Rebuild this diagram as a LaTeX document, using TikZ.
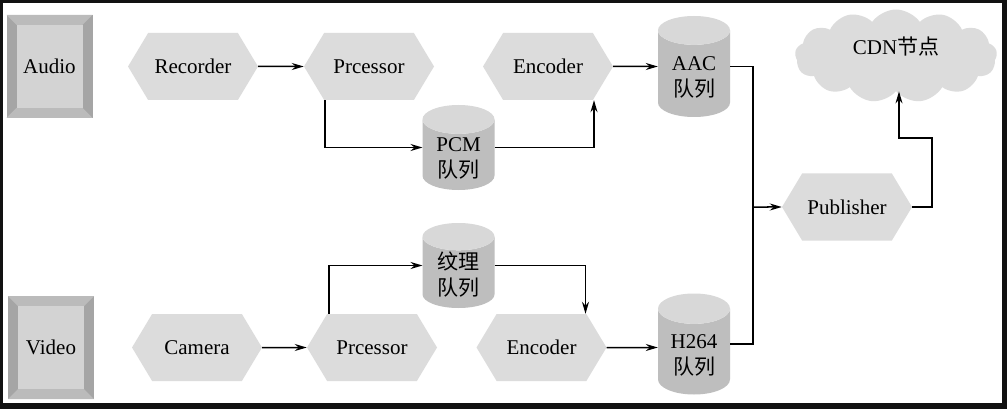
\documentclass[tikz,border=0pt]{standalone}
\usepackage{fontspec}
\setmainfont{Liberation Serif}
\newfontfamily\cjk{Noto Sans CJK SC}
\usetikzlibrary{shapes.geometric,shapes.symbols,arrows.meta}
\definecolor{framegray}{HTML}{111111}
\definecolor{hexgray}{HTML}{DCDCDC}
\definecolor{bodygray}{HTML}{BEBEBE}
\definecolor{endgray}{HTML}{D8D8D8}
\definecolor{sidegray}{HTML}{A5A5A5}
\definecolor{bevelgray}{HTML}{BBBBBB}
\definecolor{facegray}{HTML}{D3D3D3}
\newcommand{\twolines}[2]{\begin{tabular}{@{}c@{}}#1\\#2\end{tabular}}
\begin{document}
\begin{tikzpicture}[x=1pt,y=-1pt,
    font=\fontsize{21}{26}\selectfont,
    hexa/.style={signal, signal to=east and west, signal pointer angle=118,
      fill=hexgray, minimum width=130pt, minimum height=67pt, inner sep=0pt},
    queue/.style={cylinder, shape border rotate=90, aspect=0.65, anchor=shape center,
      cylinder uses custom fill, cylinder body fill=bodygray,
      cylinder end fill=endgray, minimum width=72pt, minimum height=101pt,
      text height=30pt, text depth=10pt, inner sep=0pt},
    dev/.style={rectangle, minimum width=86pt, minimum height=103pt,
      fill=sidegray, path picture={
        \fill[bevelgray] (path picture bounding box.north west)
          -- (path picture bounding box.north east)
          -- ([shift={(-10pt,-10pt)}]path picture bounding box.north east)
          -- ([shift={(10pt,-10pt)}]path picture bounding box.north west) -- cycle;
        \fill[bevelgray] (path picture bounding box.south west)
          -- (path picture bounding box.south east)
          -- ([shift={(-10pt,10pt)}]path picture bounding box.south east)
          -- ([shift={(10pt,10pt)}]path picture bounding box.south west) -- cycle;
        \fill[facegray] ([shift={(10pt,-10pt)}]path picture bounding box.north west)
          rectangle ([shift={(-10pt,10pt)}]path picture bounding box.south east);
      }},
    link/.style={line width=1.5pt, -{Stealth[length=12pt,width=7pt]}},
    bus/.style={line width=1.5pt}]
  % frame of the screenshot
  \fill[framegray] (0,0) rectangle (1007,409);
  \fill[white] (3,3) rectangle (1002,403);

  % audio row
  \node[dev] (audio) at (49.5,66.5) {Audio};
  \node[hexa] (rec) at (193,66.5) {Recorder};
  \node[hexa] (proca) at (369,66.5) {Prcessor};
  \node[hexa] (enca) at (548,66.5) {Encoder};
  \node[queue] (aac) at (694,66.5) {\twolines{AAC}{\cjk 队列}};
  \node[queue, minimum height=85pt] (pcm) at (458.5,147.5) {\twolines{PCM}{\cjk 队列}};

  % video row
  \node[dev] (video) at (51,347.5) {Video};
  \node[hexa] (cam) at (197,347.5) {Camera};
  \node[hexa] (procv) at (372,347.5) {Prcessor};
  \node[hexa] (encv) at (541.5,347.5) {Encoder};
  \node[queue] (h264) at (694,344) {\twolines{H264}{\cjk 队列}};
  \node[queue, minimum height=85pt] (tex) at (458.5,265.5) {\twolines{\cjk 纹理}{\cjk 队列}};

  % publishing
  \node[hexa] (pub) at (847,207) {Publisher};
  \node[cloud, cloud puffs=13, cloud puff arc=110, aspect=2.2, fill=hexgray,
    minimum width=202pt, minimum height=93pt, inner sep=0pt,
    text height=10pt, text depth=12pt] (cdn) at (896,56) {CDN{\cjk 节点}};
  \coordinate (join) at (753,207);
  \coordinate (turn) at (899,138);

  \draw[link] (rec) -- (proca);
  \draw[link] ([xshift=-44pt]proca.south) |- ([xshift=-36pt]pcm.shape center);
  \draw[link] ([xshift=36pt]pcm.shape center) -| ([xshift=46pt]enca.south);
  \draw[link] (enca) -- (enca -| aac.west);

  \draw[link] (cam) -- (procv);
  \draw[link] ([xshift=-43pt]procv.north) |- ([xshift=-36pt]tex.shape center);
  \draw[link] ([xshift=36pt]tex.shape center) -| ([xshift=44pt]encv.north);
  \draw[link] (encv) -- (encv -| h264.west);

  \draw[bus] ([xshift=36pt]aac.shape center) -| (join);
  \draw[bus] ([xshift=36pt]h264.shape center) -| (join);
  \draw[link] (join) -- (pub);
  \draw[link] (pub.east) -- ++(20,0) |- (turn) -- (turn |- cdn.south);
\end{tikzpicture}
\end{document}
